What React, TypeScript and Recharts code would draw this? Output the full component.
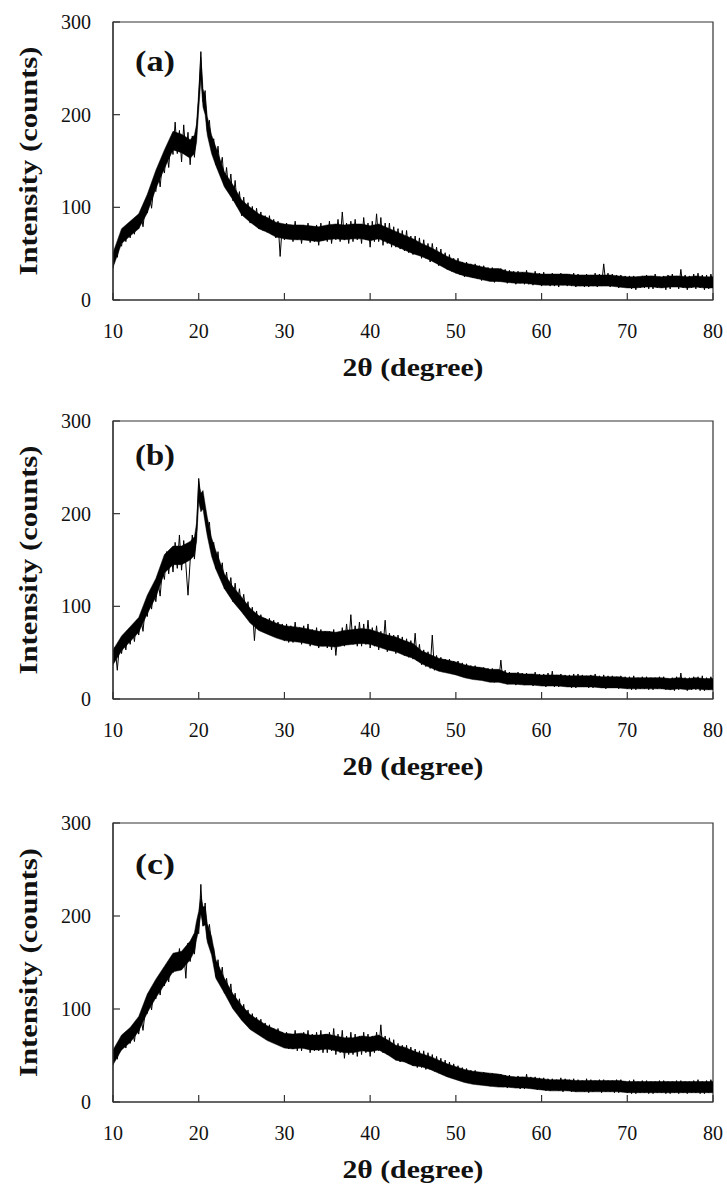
import React from 'react';
import { ComposedChart, Line, Area, XAxis, YAxis, ReferenceArea, ReferenceDot, Label } from 'recharts';

// 2θ sampling grid for the scan: 10° to 80°, every 0.25°
const TWO_THETA_START = 10;
const TWO_THETA_STEP = 0.25;
const X_TICKS = [10, 20, 30, 40, 50, 60, 70, 80];
const Y_TICKS = [0, 100, 200, 300];

// Intensity (counts), 4 samples per degree
const INTENSITY_A = [
  34, 52, 46, 63, 58, 76, 63, 81, 67, 86, 71, 90, 77, 93, 79, 99,
  94, 114, 99, 121, 117, 142, 122, 147, 137, 162, 143, 172, 157, 192, 158, 183,
  149, 189, 157, 181, 146, 177, 154, 186, 218, 268, 214, 226, 182, 194, 161, 174,
  146, 166, 141, 154, 123, 143, 117, 136, 107, 129, 101, 117, 91, 111, 89, 105,
  83, 101, 81, 99, 77, 95, 75, 91, 73, 91, 71, 87, 67, 85, 47, 81,
  65, 83, 67, 81, 63, 85, 65, 79, 61, 81, 66, 83, 62, 79, 63, 81,
  59, 83, 64, 78, 63, 85, 61, 81, 65, 87, 63, 95, 65, 83, 61, 85,
  63, 87, 65, 81, 61, 89, 65, 83, 57, 85, 63, 93, 63, 89, 59, 83,
  61, 83, 57, 79, 57, 77, 55, 75, 53, 75, 51, 69, 49, 69, 49, 67,
  45, 65, 45, 61, 41, 61, 43, 57, 37, 55, 37, 51, 33, 49, 31, 45,
  29, 45, 27, 41, 25, 41, 27, 39, 24, 39, 23, 37, 21, 37, 23, 35,
  21, 35, 19, 33, 20, 34, 21, 33, 18, 32, 19, 31, 17, 31, 18, 30,
  17, 32, 17, 29, 16, 31, 17, 29, 15, 30, 16, 28, 15, 29, 15, 27,
  14, 29, 16, 28, 15, 28, 15, 29, 14, 28, 15, 27, 14, 28, 14, 27,
  15, 29, 14, 28, 15, 39, 17, 29, 14, 28, 15, 27, 13, 27, 14, 26,
  13, 26, 12, 26, 11, 25, 13, 26, 13, 27, 12, 26, 12, 28, 13, 25,
  13, 26, 11, 27, 12, 28, 14, 26, 12, 33, 13, 27, 11, 26, 13, 28,
  12, 29, 13, 27, 11, 27, 12, 28, 19,
];

const INTENSITY_B = [
  38, 56, 31, 58, 49, 67, 53, 71, 59, 77, 62, 85, 69, 87, 73, 97,
  89, 111, 97, 117, 105, 127, 111, 139, 129, 159, 135, 161, 137, 169, 141, 177,
  139, 171, 145, 112, 149, 177, 151, 181, 238, 211, 219, 197, 181, 191, 159, 169,
  141, 159, 133, 147, 119, 137, 115, 131, 105, 125, 103, 119, 97, 113, 93, 105,
  83, 99, 63, 95, 75, 91, 73, 87, 71, 87, 69, 85, 67, 83, 65, 81,
  63, 81, 61, 79, 61, 83, 63, 77, 59, 79, 61, 81, 57, 75, 59, 77,
  55, 75, 57, 73, 55, 73, 53, 75, 47, 71, 57, 77, 57, 81, 59, 91,
  59, 79, 57, 83, 57, 81, 59, 85, 55, 77, 57, 79, 53, 73, 55, 85,
  51, 71, 53, 69, 49, 69, 51, 67, 47, 65, 45, 63, 43, 71, 41, 59,
  37, 53, 35, 51, 33, 69, 31, 47, 31, 45, 29, 43, 28, 43, 27, 41,
  26, 41, 25, 39, 24, 38, 23, 36, 22, 36, 21, 34, 21, 34, 20, 33,
  19, 33, 18, 31, 19, 42, 18, 31, 16, 29, 17, 28, 15, 29, 16, 28,
  15, 28, 16, 27, 14, 29, 15, 27, 14, 27, 13, 28, 14, 30, 13, 26,
  13, 27, 14, 26, 13, 26, 12, 27, 12, 27, 13, 26, 13, 25, 12, 26,
  12, 27, 13, 25, 12, 26, 11, 25, 12, 25, 13, 24, 11, 25, 12, 24,
  11, 24, 10, 25, 10, 23, 11, 24, 11, 24, 10, 23, 10, 23, 11, 24,
  11, 24, 10, 22, 10, 23, 9, 24, 10, 28, 11, 23, 9, 23, 10, 24,
  10, 24, 9, 25, 9, 23, 10, 24, 16,
];

const INTENSITY_C = [
  40, 58, 46, 62, 56, 72, 58, 76, 63, 79, 65, 85, 73, 91, 77, 97,
  95, 113, 99, 119, 111, 129, 115, 135, 125, 143, 129, 155, 139, 159, 143, 165,
  143, 163, 133, 171, 151, 175, 159, 187, 181, 234, 189, 214, 175, 191, 169, 165,
  135, 153, 131, 145, 117, 133, 113, 127, 101, 117, 97, 111, 89, 105, 85, 99,
  79, 95, 77, 91, 73, 89, 71, 85, 67, 83, 65, 79, 63, 79, 61, 75,
  59, 75, 57, 73, 57, 77, 55, 73, 55, 75, 57, 77, 53, 73, 55, 75,
  55, 77, 53, 73, 53, 75, 55, 79, 51, 73, 53, 77, 47, 71, 51, 75,
  51, 73, 49, 71, 51, 75, 53, 73, 49, 71, 53, 75, 55, 83, 53, 71,
  51, 69, 49, 67, 45, 63, 43, 61, 43, 61, 41, 59, 39, 57, 37, 55,
  37, 55, 35, 53, 35, 51, 33, 49, 31, 47, 29, 45, 27, 43, 26, 41,
  25, 39, 24, 37, 22, 36, 21, 34, 20, 34, 19, 32, 19, 32, 18, 31,
  17, 31, 18, 29, 17, 30, 16, 29, 15, 29, 16, 27, 15, 28, 14, 27,
  14, 30, 15, 27, 14, 27, 13, 26, 13, 26, 12, 25, 12, 25, 13, 24,
  12, 26, 11, 25, 12, 24, 11, 25, 11, 24, 12, 23, 11, 25, 10, 24,
  11, 23, 12, 24, 10, 24, 11, 23, 11, 23, 10, 24, 10, 24, 11, 22,
  10, 23, 9, 24, 9, 22, 10, 23, 10, 23, 9, 22, 9, 22, 10, 23,
  10, 23, 9, 22, 9, 22, 10, 23, 9, 23, 10, 22, 9, 22, 10, 23,
  10, 24, 9, 22, 9, 23, 10, 24, 16,
];

// Dense core of the noisy trace (lower / upper edge of the solid black band)
const BAND_X = [
  10, 11, 12, 13, 14, 15, 16, 17, 18, 19,
  19.5, 19.75, 20, 20.25, 20.5, 20.75, 21, 21.5,
  22, 23, 24, 25, 26, 27, 28, 29, 30, 31, 32, 33, 34, 35, 36, 37, 38, 39, 40,
  41, 42, 43, 44, 45, 46, 47, 48, 49, 50, 51, 52, 53, 54, 55, 56, 57, 58, 59, 60,
  61, 62, 63, 64, 65, 66, 67, 68, 69, 70, 71, 72, 73, 74, 75, 76, 77, 78, 79, 80,
];

const BAND_LOW_A = [
  35, 61, 69, 77, 94, 120, 142, 162, 159, 153,
  158, 170, 205, 238, 208, 200, 178, 158,
  145, 122, 108, 92, 84, 77, 73, 68, 66, 65, 65, 64, 63, 65, 66, 65, 66, 66, 64,
  66, 62, 58, 54, 50, 47, 43, 38, 33, 29, 26, 24, 22, 20, 20, 19, 18, 18, 17, 16,
  16, 16, 16, 15, 15, 15, 15, 15, 14, 13, 13, 14, 14, 13, 14, 14, 13, 14, 13, 13,
];
const BAND_HIGH_A = [
  51, 77, 85, 93, 114, 140, 162, 182, 179, 173,
  178, 190, 225, 262, 228, 220, 198, 178,
  165, 138, 124, 108, 100, 93, 89, 84, 82, 81, 81, 80, 79, 81, 82, 81, 82, 82, 80,
  82, 78, 74, 70, 66, 61, 57, 52, 47, 43, 40, 38, 36, 34, 34, 31, 30, 30, 29, 28,
  28, 28, 28, 27, 27, 27, 27, 27, 26, 25, 25, 26, 26, 25, 26, 26, 25, 26, 25, 25,
];

const BAND_LOW_B = [
  37, 52, 62, 72, 92, 110, 136, 145, 145, 150,
  155, 170, 213, 202, 205, 190, 176, 154,
  140, 119, 105, 94, 82, 74, 70, 66, 63, 62, 61, 59, 57, 57, 56, 58, 59, 60, 59,
  56, 53, 51, 47, 44, 38, 34, 30, 28, 26, 23, 21, 20, 18, 18, 16, 16, 15, 15, 14,
  14, 14, 13, 13, 13, 13, 12, 12, 12, 11, 11, 11, 11, 11, 10, 11, 10, 11, 10, 10,
];
const BAND_HIGH_B = [
  53, 68, 78, 88, 112, 130, 156, 165, 165, 170,
  175, 190, 235, 222, 225, 210, 196, 174,
  160, 135, 121, 110, 98, 90, 86, 82, 79, 78, 77, 75, 73, 73, 72, 74, 75, 76, 75,
  72, 69, 67, 63, 60, 52, 48, 44, 42, 40, 37, 35, 34, 32, 32, 28, 28, 27, 27, 26,
  26, 26, 25, 25, 25, 25, 24, 24, 24, 23, 23, 23, 23, 23, 22, 23, 22, 23, 22, 22,
];

const BAND_LOW_C = [
  40, 56, 64, 76, 96, 112, 126, 140, 142, 153,
  162, 175, 185, 202, 190, 190, 172, 158,
  133, 117, 100, 88, 78, 72, 66, 62, 58, 57, 58, 56, 56, 57, 55, 53, 53, 55, 54,
  56, 51, 45, 43, 39, 38, 35, 31, 27, 24, 21, 19, 18, 17, 16, 16, 15, 15, 14, 13,
  12, 12, 12, 11, 11, 11, 11, 11, 11, 10, 10, 10, 10, 10, 10, 10, 10, 10, 10, 10,
];
const BAND_HIGH_C = [
  56, 72, 80, 92, 116, 132, 146, 160, 162, 173,
  182, 195, 205, 222, 210, 210, 192, 178,
  153, 133, 116, 104, 94, 88, 82, 78, 74, 73, 74, 72, 72, 73, 71, 69, 69, 71, 70,
  72, 67, 61, 59, 55, 52, 49, 45, 41, 38, 35, 33, 32, 31, 30, 28, 27, 27, 26, 25,
  24, 24, 24, 23, 23, 23, 23, 23, 23, 22, 22, 22, 22, 22, 22, 22, 22, 22, 22, 22,
];

const PANEL_LABELS = ['(a)', '(b)', '(c)'];
const PANEL_LABEL_POS = [
  { x: 14.9, y: 256 },
  { x: 14.9, y: 261 },
  { x: 14.9, y: 254 },
];

const SERIF = '"Liberation Serif", "Times New Roman", serif';
const AXIS_COLOR = '#333';
const TEXT_COLOR = '#111';

const buildRows = (values: number[]) =>
  values.map((v, i) => ({ x: TWO_THETA_START + i * TWO_THETA_STEP, y: v }));

const buildBand = (low: number[], high: number[]) =>
  BAND_X.map((x, i) => ({ x, band: [low[i], high[i]] }));

const XTick = (props: any) => (
  <text x={props.x} y={props.y} textAnchor="middle" fontFamily={SERIF} fontSize={20} fill={TEXT_COLOR}>
    {props.payload.value}
  </text>
);

const YTick = (props: any) => (
  <text x={props.x} y={props.y + 7} textAnchor="end" fontFamily={SERIF} fontSize={20} fill={TEXT_COLOR}>
    {props.payload.value}
  </text>
);

const XTitle = (props: any) => {
  const vb = props.viewBox || {};
  return (
    <text
      x={vb.x + vb.width / 2}
      y={vb.y + 76}
      textAnchor="middle"
      fontFamily={SERIF}
      fontWeight="bold"
      fontSize={26}
      fill={TEXT_COLOR}
      textLength={141}
      lengthAdjust="spacingAndGlyphs"
    >
      2θ (degree)
    </text>
  );
};

const YTitle = (props: any) => {
  const vb = props.viewBox || {};
  const cx = vb.x + 37;
  const cy = vb.y + vb.height / 2;
  return (
    <text
      x={cx}
      y={cy}
      transform={`rotate(-90, ${cx}, ${cy})`}
      textAnchor="middle"
      fontFamily={SERIF}
      fontWeight="bold"
      fontSize={25}
      fill={TEXT_COLOR}
      textLength={229}
      lengthAdjust="spacingAndGlyphs"
    >
      Intensity (counts)
    </text>
  );
};

const PanelLetter = (text: string) => (props: any) => {
  const vb = props.viewBox || {};
  return (
    <text
      x={vb.x + (vb.width || 0) / 2}
      y={vb.y + (vb.height || 0) / 2 + 8}
      textAnchor="middle"
      fontFamily={SERIF}
      fontWeight="bold"
      fontSize={29}
      fill={TEXT_COLOR}
      textLength={40}
      lengthAdjust="spacingAndGlyphs"
    >
      {text}
    </text>
  );
};

const Panel = ({
  values,
  low,
  high,
  index,
  height,
}: {
  values: number[];
  low: number[];
  high: number[];
  index: number;
  height: number;
}) => {
  const rows = buildRows(values);
  const band = buildBand(low, high);
  return (
    <ComposedChart width={727} height={height} data={rows} margin={{ top: 22, right: 14, bottom: 0, left: 0 }}>
      <XAxis
        type="number"
        dataKey="x"
        domain={[10, 80]}
        ticks={X_TICKS}
        allowDataOverflow
        height={100}
        tickSize={-7}
        tickMargin={45}
        tick={<XTick />}
        axisLine={{ stroke: AXIS_COLOR, strokeWidth: 1.2 }}
        tickLine={{ stroke: AXIS_COLOR, strokeWidth: 1.2 }}
      >
        <Label content={<XTitle />} />
      </XAxis>
      <YAxis
        type="number"
        domain={[0, 300]}
        ticks={Y_TICKS}
        allowDataOverflow
        width={113}
        tickSize={-7}
        tickMargin={29}
        tick={<YTick />}
        axisLine={{ stroke: AXIS_COLOR, strokeWidth: 1.2 }}
        tickLine={{ stroke: AXIS_COLOR, strokeWidth: 1.2 }}
      >
        <Label content={<YTitle />} />
      </YAxis>
      <ReferenceArea x1={10} x2={80} y1={0} y2={300} fill="none" fillOpacity={0} stroke={AXIS_COLOR} strokeWidth={1.2} />
      <Area
        data={band}
        type="linear"
        dataKey="band"
        stroke="#000"
        strokeWidth={0.5}
        fill="#000"
        fillOpacity={1}
        dot={false}
        activeDot={false}
        isAnimationActive={false}
      />
      <Line
        type="linear"
        dataKey="y"
        stroke="#000"
        strokeWidth={1}
        dot={false}
        activeDot={false}
        isAnimationActive={false}
      />
      <ReferenceDot
        x={PANEL_LABEL_POS[index].x}
        y={PANEL_LABEL_POS[index].y}
        r={0}
        fill="none"
        stroke="none"
        label={{ content: PanelLetter(PANEL_LABELS[index]) }}
      />
    </ComposedChart>
  );
};

export default function App() {
  return (
    <div style={{ position: 'absolute', left: 0, top: 0, width: 727, height: 1187, background: '#fff' }}>
      <div style={{ position: 'absolute', left: 0, top: 0 }}>
        <Panel values={INTENSITY_A} low={BAND_LOW_A} high={BAND_HIGH_A} index={0} height={400} />
      </div>
      <div style={{ position: 'absolute', left: 0, top: 399 }}>
        <Panel values={INTENSITY_B} low={BAND_LOW_B} high={BAND_HIGH_B} index={1} height={400} />
      </div>
      <div style={{ position: 'absolute', left: 0, top: 801 }}>
        <Panel values={INTENSITY_C} low={BAND_LOW_C} high={BAND_HIGH_C} index={2} height={401} />
      </div>
    </div>
  );
}
